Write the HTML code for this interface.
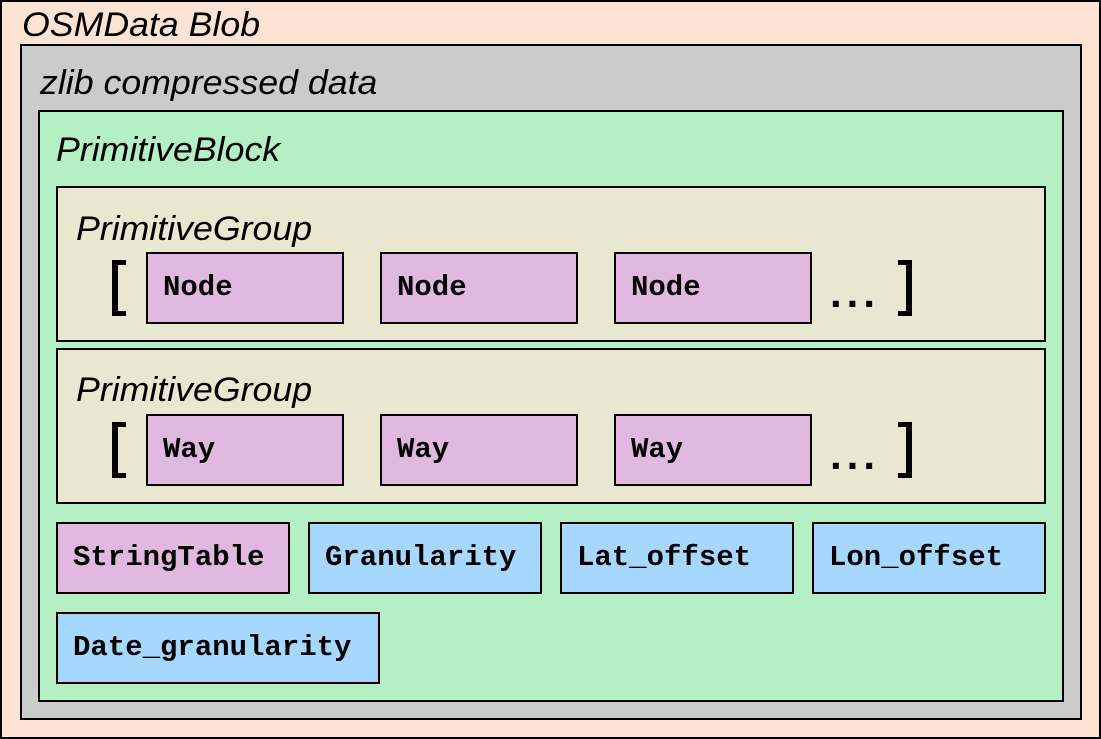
<!DOCTYPE html>
<html><head><style>
*{margin:0;padding:0;box-sizing:border-box}
body{width:1101px;height:739px;position:relative;background:#fff;overflow:hidden}
div{position:absolute;border:2px solid #000}
.t{position:absolute;border:none;font-family:"Liberation Sans",sans-serif;font-style:italic;font-size:34px;white-space:nowrap;line-height:1;transform-origin:0 0;transform:scaleX(1.05)}
.b{font-family:"Liberation Mono",monospace;font-weight:bold;font-size:29px;line-height:67px;padding-left:15px;white-space:nowrap}
.p{background:#e0b8e0}.c{background:#a6d8fd}
.g{background:#e9e7d0}
.lb{border:none;border-left:6px solid #000;border-top:5px solid #000;border-bottom:5px solid #000;width:14px;height:56px}
.rb{border:none;border-right:6px solid #000;border-top:5px solid #000;border-bottom:5px solid #000;width:14px;height:56px}
.dots{border:none;font-family:"Liberation Sans",sans-serif;font-weight:bold;font-size:42px;line-height:1;letter-spacing:5px}
</style></head><body>
<div style="left:0;top:0;width:1101px;height:739px;background:#fde3d3"></div>
<span class="t" style="left:22px;top:8px">OSMData Blob</span>
<div style="left:20px;top:44px;width:1062px;height:676px;background:#cbcbcb"></div>
<span class="t" style="left:40px;top:66px">zlib compressed data</span>
<div style="left:38px;top:110px;width:1026px;height:592px;background:#b5f0c5"></div>
<span class="t" style="left:56px;top:133px">PrimitiveBlock</span>

<div class="g" style="left:56px;top:186px;width:990px;height:156px"></div>
<span class="t" style="left:76px;top:212px">PrimitiveGroup</span>
<div class="lb" style="left:112px;top:260px"></div>
<div class="b p" style="left:146px;top:252px;width:198px;height:72px">Node</div>
<div class="b p" style="left:380px;top:252px;width:198px;height:72px">Node</div>
<div class="b p" style="left:614px;top:252px;width:198px;height:72px">Node</div>
<div class="dots" style="left:830px;top:272px">...</div>
<div class="rb" style="left:898px;top:260px"></div>

<div class="g" style="left:56px;top:348px;width:990px;height:156px"></div>
<span class="t" style="left:76px;top:373px">PrimitiveGroup</span>
<div class="lb" style="left:112px;top:422px"></div>
<div class="b p" style="left:146px;top:414px;width:198px;height:72px">Way</div>
<div class="b p" style="left:380px;top:414px;width:198px;height:72px">Way</div>
<div class="b p" style="left:614px;top:414px;width:198px;height:72px">Way</div>
<div class="dots" style="left:830px;top:434px">...</div>
<div class="rb" style="left:898px;top:422px"></div>

<div class="b p" style="left:56px;top:522px;width:234px;height:72px">StringTable</div>
<div class="b c" style="left:308px;top:522px;width:234px;height:72px">Granularity</div>
<div class="b c" style="left:560px;top:522px;width:234px;height:72px">Lat_offset</div>
<div class="b c" style="left:812px;top:522px;width:234px;height:72px">Lon_offset</div>
<div class="b c" style="left:56px;top:612px;width:324px;height:72px">Date_granularity</div>
</body></html>
